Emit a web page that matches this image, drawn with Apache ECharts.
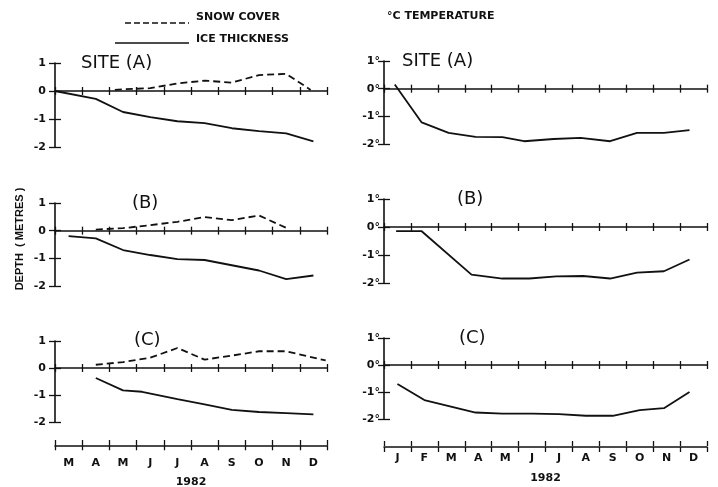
<!DOCTYPE html>
<html>
<head>
<meta charset="utf-8">
<script src="https://cdn.jsdelivr.net/npm/echarts@6/dist/echarts.min.js"></script>
<style>
html,body{margin:0;padding:0;background:#fff}
#main{width:718px;height:487px}
</style>
</head>
<body>
<div id="main"></div>
<script>
// month axes
var depthMonths = ['M', 'A', 'M', 'J', 'J', 'A', 'S', 'O', 'N', 'D'];
var tempMonths = ['J', 'F', 'M', 'A', 'M', 'J', 'J', 'A', 'S', 'O', 'N', 'D'];
var yearLabel = '1982';

// site A - depth (x = months since 1 March)
var iceA_x = [0, 1.5, 2.5, 3.5, 4.5, 5.5, 6.5, 7.5, 8.5, 9.5];
var iceA = [0, -0.28, -0.75, -0.93, -1.08, -1.15, -1.33, -1.43, -1.51, -1.8];
var snowA_x = [2.2, 2.5, 3.5, 4.5, 5.5, 6.5, 7.5, 8.5, 9.4];
var snowA = [0.04, 0.06, 0.1, 0.27, 0.37, 0.3, 0.57, 0.61, 0.04];

// site B - depth
var iceB_x = [0.5, 1.5, 2.5, 3.5, 4.5, 5.5, 6.5, 7.5, 8.5, 9.5];
var iceB = [-0.2, -0.28, -0.7, -0.88, -1.03, -1.06, -1.25, -1.44, -1.75, -1.62];
var snowB_x = [1.5, 2.5, 3.5, 4.5, 5.5, 6.5, 7.5, 8.5, 8.6];
var snowB = [0.04, 0.09, 0.2, 0.32, 0.49, 0.38, 0.55, 0.1, 0.05];

// site C - depth
var iceC_x = [1.5, 2.5, 3.2, 4.5, 5.5, 6.5, 7.5, 8.5, 9.5];
var iceC = [-0.37, -0.83, -0.88, -1.15, -1.35, -1.55, -1.63, -1.67, -1.72];
var snowC_x = [1.5, 2.5, 3.5, 4.5, 5.5, 6.5, 7.5, 8.5, 9.95];
var snowC = [0.12, 0.22, 0.38, 0.74, 0.31, 0.46, 0.62, 0.62, 0.28];

// temperature (x = months since 1 January)
var tempA_x = [0.4, 1.4, 2.4, 3.4, 4.4, 5.2, 6.3, 7.3, 8.4, 9.4, 10.4, 11.35];
var tempA = [0.15, -1.22, -1.6, -1.74, -1.75, -1.9, -1.82, -1.78, -1.9, -1.6, -1.6, -1.5];
var tempB_x = [0.45, 1.4, 3.25, 4.4, 5.4, 6.4, 7.4, 8.4, 9.4, 10.4, 11.35];
var tempB = [-0.15, -0.15, -1.7, -1.84, -1.84, -1.76, -1.75, -1.84, -1.63, -1.58, -1.16];
var tempC_x = [0.5, 1.5, 2.45, 3.4, 4.4, 5.5, 6.5, 7.5, 8.5, 9.5, 10.4, 11.35];
var tempC = [-0.7, -1.3, -1.53, -1.76, -1.8, -1.8, -1.82, -1.88, -1.88, -1.67, -1.6, -1.0];

var INK = '#111';
var FONT = 'DejaVu Sans';
var grids = [], xAxes = [], yAxes = [], series = [];

function toPairs(xs, ys) {
	var out = [];
	for (var i = 0; i < xs.length; i++) {
		out.push([xs[i], ys[i]]);
	}
	return out;
}

// one small panel: zero line with crossing ticks, y axis 1..-2
function addPanel(box, xmax, deg, lines) {
	var g = grids.length;
	grids.push({left: box[0], top: box[1], width: box[2], height: box[3]});
	var xi = xAxes.length, yi = yAxes.length;
	['bottom', 'top'].forEach(function(pos, k) {
		xAxes.push({
			gridIndex: g, type: 'value', min: 0, max: xmax, interval: 1, position: pos,
			axisLine: {show: k == 0, onZero: true, lineStyle: {color: INK, width: 1.6}},
			axisTick: {show: true, length: 4, lineStyle: {color: INK, width: 1.3}},
			axisLabel: {show: false}, splitLine: {show: false}
		});
	});
	[false, true].forEach(function(inside, k) {
		yAxes.push({
			gridIndex: g, type: 'value', min: -2, max: 1, interval: 1, position: 'left',
			axisLine: {show: k == 0, onZero: false, lineStyle: {color: INK, width: 1.6}},
			axisTick: {show: true, inside: inside, length: 6, lineStyle: {color: INK, width: 1.3}},
			axisLabel: {
				show: k == 0, color: INK, fontFamily: FONT, fontWeight: 'bold', fontSize: 11,
				margin: deg ? 4 : 9,
				formatter: function(v) { return deg ? v + '°' : String(v); }
			},
			splitLine: {show: false}
		});
	});
	lines.forEach(function(l) {
		series.push({
			type: 'line', xAxisIndex: xi, yAxisIndex: yi, data: l.data,
			symbol: 'none', smooth: false, silent: true,
			lineStyle: {color: INK, width: 1.8, type: l.dashed ? [7, 4] : 'solid'}
		});
	});
}

// month scale below the panels
function addMonthAxis(box, months, margin, gap) {
	var g = grids.length;
	grids.push({left: box[0], top: box[1], width: box[2], height: 1});
	['bottom', 'top'].forEach(function(pos, k) {
		xAxes.push({
			gridIndex: g, type: 'category', data: months, boundaryGap: true, position: pos,
			axisLine: {show: k == 0, onZero: false, lineStyle: {color: INK, width: 1.6}},
			axisTick: {show: true, interval: 0, length: 5, lineStyle: {color: INK, width: 1.3}},
			axisLabel: {show: k == 0, interval: 0, margin: margin, color: INK, fontFamily: FONT, fontWeight: 'bold', fontSize: 11},
			name: k == 0 ? yearLabel : '', nameLocation: 'middle', nameGap: gap,
			nameTextStyle: {color: INK, fontFamily: FONT, fontWeight: 'bold', fontSize: 11}
		});
	});
	yAxes.push({gridIndex: g, type: 'value', min: 0, max: 1, show: false});
}

addPanel([55, 63, 272, 84], 10, false, [
	{data: toPairs(snowA_x, snowA), dashed: true},
	{data: toPairs(iceA_x, iceA)}
]);
addPanel([55, 203, 272, 83], 10, false, [
	{data: toPairs(snowB_x, snowB), dashed: true},
	{data: toPairs(iceB_x, iceB)}
]);
addPanel([55, 341, 272, 81], 10, false, [
	{data: toPairs(snowC_x, snowC), dashed: true},
	{data: toPairs(iceC_x, iceC)}
]);
addPanel([384, 61, 323, 83], 12, true, [{data: toPairs(tempA_x, tempA)}]);
addPanel([384, 199, 323, 84], 12, true, [{data: toPairs(tempB_x, tempB)}]);
addPanel([384, 338, 323, 81], 12, true, [{data: toPairs(tempC_x, tempC)}]);
addMonthAxis([55, 445, 272], depthMonths, 12, 31);
addMonthAxis([384, 446, 323], tempMonths, 6, 26);

function label(x, y, t, size, bold) {
	return {type: 'text', left: x, top: y, style: {text: t, fill: INK, font: (bold ? 'bold ' : '') + size + 'px "' + FONT + '"'}};
}

var chartDom = document.getElementById('main');
var chart = echarts.init(chartDom);
chart.setOption({
	animation: false,
	backgroundColor: '#fff',
	grid: grids,
	xAxis: xAxes,
	yAxis: yAxes,
	series: series,
	graphic: [
		// legend
		{type: 'line', shape: {x1: 125, y1: 23, x2: 189, y2: 23}, style: {stroke: INK, lineWidth: 1.5, lineDash: [6, 3]}},
		{type: 'line', shape: {x1: 115, y1: 43, x2: 189, y2: 43}, style: {stroke: INK, lineWidth: 1.5}},
		label(196, 12, 'SNOW COVER', 11, true),
		label(196, 34, 'ICE THICKNESS', 11, true),
		label(387, 11, '°C TEMPERATURE', 11, true),
		// panel titles
		label(81, 54, 'SITE (A)', 18, false),
		label(132, 194, '(B)', 18, false),
		label(134, 331, '(C)', 18, false),
		label(402, 52, 'SITE (A)', 18, false),
		label(457, 190, '(B)', 18, false),
		label(459, 329, '(C)', 18, false),
		// axis title
		{type: 'text', x: 20, y: 239, rotation: Math.PI / 2,
			style: {text: 'DEPTH  ( METRES )', fill: INK, font: 'bold 11px "Liberation Sans"', align: 'center', verticalAlign: 'middle'}}
	]
});
</script>
</body>
</html>
